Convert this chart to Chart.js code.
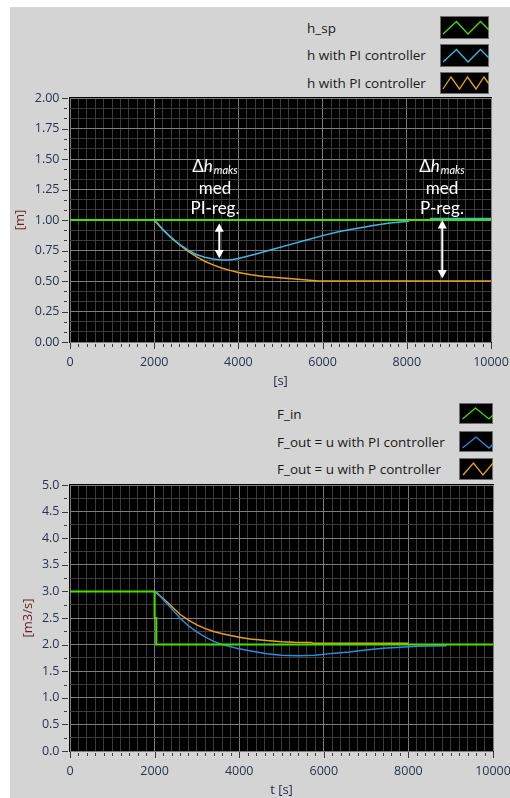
<!DOCTYPE html>
<html><head><meta charset="utf-8">
<script src="https://cdn.jsdelivr.net/npm/chart.js@4.4.1/dist/chart.umd.min.js"></script>
<style>
html,body{margin:0;padding:0;background:#fff;width:510px;height:798px;overflow:hidden;}
#panel{position:absolute;left:10px;top:7px;width:500px;height:791px;background:#d4d4d4;}
.cw{position:absolute;left:0;width:510px;}
#c1w{top:90px;height:300px;}
#c2w{top:478px;height:320px;}
.leg{position:absolute;font-family:'Open Sans';font-size:13.5px;color:#1a1a1a;white-space:nowrap;line-height:16px;}
.box{position:absolute;background:#000;border:1px solid #6e6e6e;box-sizing:border-box;}
.box svg{position:absolute;left:0;top:0;}
</style></head>
<body>
<div id="panel"></div>
<div id="legend"></div>
<div class="cw" id="c1w"><canvas id="c1"></canvas></div>
<div class="cw" id="c2w"><canvas id="c2"></canvas></div>
<script>
// ---------- data ----------
const xTickValues = [0, 2000, 4000, 6000, 8000, 10000];
const yTickValuesTop = [0, 0.25, 0.5, 0.75, 1.0, 1.25, 1.5, 1.75, 2.0];
const yTickValuesBottom = [0, 0.5, 1.0, 1.5, 2.0, 2.5, 3.0, 3.5, 4.0, 4.5, 5.0];

const topLabels = ['h_sp', 'h with PI controller', 'h with PI controller'];
const bottomLabels = ['F_in', 'F_out = u with PI controller', 'F_out = u with P controller'];

// top chart: level h [m]
const tSp = [0, 10000];
const hSp = [1.0, 1.0];
const tHPI = [0, 2000, 2100, 2200, 2400, 2600, 2800, 3000, 3200, 3400, 3600, 3800, 4000, 4400, 4800, 5200, 5600, 6000, 6400, 6800, 7200, 7600, 8050, 8100, 8550, 10000];
const hPI  = [1.0, 1.0, 0.965, 0.925, 0.858, 0.80, 0.755, 0.717, 0.695, 0.68, 0.672, 0.672, 0.685, 0.72, 0.758, 0.796, 0.834, 0.872, 0.905, 0.93, 0.955, 0.975, 0.99, null, 1.012, 1.012];
const tHP  = [0, 2000, 2100, 2200, 2400, 2600, 2800, 3000, 3200, 3400, 3600, 3800, 4000, 4300, 4600, 5200, 5900, 10000];
const hP   = [1.0, 1.0, 0.962, 0.922, 0.855, 0.797, 0.745, 0.70, 0.662, 0.632, 0.607, 0.587, 0.57, 0.552, 0.537, 0.52, 0.50, 0.50];

// bottom chart: flows [m3/s]
const tFin = [0, 2000, 2000, 2040, 2040, 10000];
const fIn  = [3.0, 3.0, 2.5, 2.5, 2.0, 2.0];
const tUPI = [2000, 2050, 2200, 2400, 2600, 2800, 3000, 3200, 3400, 3600, 3800, 4000, 4250, 4650, 5000, 5400, 5800, 6200, 6600, 7000, 7400, 7800, 8200, 8900];
const uPI  = [3.0, 2.99, 2.85, 2.68, 2.50, 2.35, 2.24, 2.14, 2.06, 2.00, 1.96, 1.92, 1.885, 1.83, 1.80, 1.79, 1.80, 1.835, 1.86, 1.90, 1.93, 1.95, 1.97, 1.98];
const tUP  = [2000, 2200, 2400, 2600, 2800, 3000, 3200, 3400, 3600, 3800, 4000, 4250, 4650, 5000, 5300, 5700, 5750, 8000];
const uP   = [3.0, 2.87, 2.72, 2.57, 2.46, 2.37, 2.30, 2.245, 2.205, 2.17, 2.14, 2.105, 2.075, 2.055, 2.045, 2.04, 2.027, 2.027];

// annotations (data coordinates of the top chart)
const notes = [
  {tText: 3444, tArrow: 3546, yTop: 0.973, yBot: 0.685, line2: 'med', line3: 'PI-reg.'},
  {tText: 8836, tArrow: 8843, yTop: 1.0,   yBot: 0.521, line2: 'med', line3: 'P-reg.'}
];
const noteRowY = [1.44, 1.262, 1.098];

// ---------- styles ----------
const GREEN = '#46e000', CYAN = '#3fb6e6', BLUE = '#2d8be0', ORANGE = '#e8a117';
const topColors = [GREEN, CYAN, ORANGE];
const bottomColors = [GREEN, BLUE, ORANGE];
const MAJOR = '#7c7c7c', MINOR = '#3c3c3c';
const TICKCOL = '#26344e';
const FONT = 'Open Sans';

function pts(xs, ys) { return xs.map((x, i) => ({x: x, y: ys[i]})); }

function makeTicks(majors, nSub) {
  const out = [];
  for (let i = 0; i < majors.length; i++) {
    out.push({value: majors[i], mj: true});
    if (i < majors.length - 1) {
      const step = (majors[i + 1] - majors[i]) / nSub;
      for (let k = 1; k < nSub; k++) out.push({value: majors[i] + k * step, mj: false});
    }
  }
  return out;
}

const bgPlugin = {
  id: 'bg',
  beforeDraw(c) {
    const a = c.chartArea, x = c.ctx;
    x.save(); x.fillStyle = '#000';
    x.fillRect(a.left - 1, a.top - 1, a.right - a.left + 2, a.bottom - a.top + 2);
    x.restore();
  }
};

const tickMarkPlugin = {
  id: 'tickmarks',
  afterDraw(c) {
    const ctx = c.ctx, a = c.chartArea;
    ctx.save();
    ctx.strokeStyle = '#3a3a3a';
    ctx.lineWidth = 1;
    const xs = c.scales.x, ys = c.scales.y;
    xs.ticks.forEach(t => {
      const p = Math.round(xs.getPixelForValue(t.value)) + 0.5;
      const len = t.mj ? 6 : 3;
      const y0 = Math.round(a.bottom) + 1 + (t.mj ? 0 : 1);
      ctx.beginPath(); ctx.moveTo(p, y0); ctx.lineTo(p, y0 + len); ctx.stroke();
    });
    ys.ticks.forEach(t => {
      const p = Math.round(ys.getPixelForValue(t.value)) + 0.5;
      const len = t.mj ? 6 : 3;
      const x0 = Math.round(a.left) - 2 - (t.mj ? 0 : 1);
      ctx.beginPath(); ctx.moveTo(x0, p); ctx.lineTo(x0 - len, p); ctx.stroke();
    });
    ctx.restore();
  }
};

function arrowHead(ctx, x, y, dir) {
  ctx.beginPath();
  ctx.moveTo(x, y);
  ctx.lineTo(x - 4.5, y + dir * 8.5);
  ctx.lineTo(x + 4.5, y + dir * 8.5);
  ctx.closePath(); ctx.fill();
}

const notePlugin = {
  id: 'notes',
  afterDatasetsDraw(c) {
    const ctx = c.ctx, xs = c.scales.x, ys = c.scales.y;
    ctx.save();
    ctx.fillStyle = '#ffffff'; ctx.strokeStyle = '#ffffff';
    notes.forEach(n => {
      const ax = xs.getPixelForValue(n.tArrow);
      const yt = ys.getPixelForValue(n.yTop), yb = ys.getPixelForValue(n.yBot);
      ctx.lineWidth = 2;
      ctx.beginPath(); ctx.moveTo(ax, yt + 6); ctx.lineTo(ax, yb - 6); ctx.stroke();
      arrowHead(ctx, ax, yt, 1);
      arrowHead(ctx, ax, yb, -1);
      const cx = xs.getPixelForValue(n.tText);
      ctx.textBaseline = 'middle';
      const r0 = ys.getPixelForValue(noteRowY[0]);
      const fBig = '17px Lato', fIt = 'italic 17px Lato', fSub = 'italic 11px Lato';
      ctx.font = fBig; const wD = ctx.measureText('Δ').width;
      ctx.font = fIt; const wH = ctx.measureText('h').width;
      ctx.font = fSub; const wS = ctx.measureText('maks').width;
      let x0 = cx - (wD + wH + 1 + wS) / 2;
      ctx.textAlign = 'left';
      ctx.font = fBig; ctx.fillText('Δ', x0, r0);
      ctx.font = fIt; ctx.fillText('h', x0 + wD, r0);
      ctx.font = fSub; ctx.fillText('maks', x0 + wD + wH + 1, r0 + 4);
      ctx.textAlign = 'center';
      ctx.font = fBig;
      ctx.fillText(n.line2, cx, ys.getPixelForValue(noteRowY[1]));
      ctx.fillText(n.line3, cx, ys.getPixelForValue(noteRowY[2]));
    });
    ctx.restore();
  }
};

function zeroPad(s) { s.paddingTop = 0; s.paddingBottom = 0; s.paddingLeft = 0; s.paddingRight = 0; }

function xScale(height, titleText, titlePad) {
  return {
    type: 'linear', min: 0, max: 10000,
    afterFit: s => { s.height = height; zeroPad(s); },
    afterBuildTicks: s => { s.ticks = makeTicks(xTickValues, 10); },
    grid: {drawTicks: false, lineWidth: 1, color: c => (c.tick && c.tick.mj) ? MAJOR : MINOR},
    border: {display: false},
    ticks: {autoSkip: false, maxRotation: 0, padding: 13, color: TICKCOL, font: {family: FONT, size: 12.5},
            callback: (v, i, t) => t[i].mj ? String(v) : ''},
    title: {display: true, text: titleText, color: '#1e2740', font: {family: FONT, size: 13}, padding: {top: 0, bottom: titlePad}}
  };
}
function yScale(min, max, majors, nSub, digits, titleText, titlePad) {
  return {
    type: 'linear', min: min, max: max,
    afterFit: s => { s.width = 70; zeroPad(s); },
    afterBuildTicks: s => { s.ticks = makeTicks(majors, nSub); },
    grid: {drawTicks: false, lineWidth: 1, color: c => (c.tick && c.tick.mj) ? MAJOR : MINOR},
    border: {display: false},
    ticks: {autoSkip: false, padding: 10.5, color: TICKCOL, font: {family: FONT, size: 12.5},
            callback: (v, i, t) => t[i].mj ? v.toFixed(digits) : ''},
    title: {display: true, text: titleText, color: '#6a2424', font: {family: FONT, size: 13}, padding: {top: titlePad, bottom: 0}}
  };
}

function baseOptions(pad, xs, ys) {
  return {
    responsive: true, maintainAspectRatio: false, animation: false, devicePixelRatio: 1,
    events: [],
    elements: {point: {radius: 0}, line: {tension: 0, fill: false}},
    layout: {padding: pad},
    plugins: {legend: {display: false}, tooltip: {enabled: false}},
    scales: {x: xs, y: ys}
  };
}

new Chart(document.getElementById('c1'), {
  type: 'line',
  data: {datasets: [
    {label: topLabels[0], data: pts(tSp, hSp), borderColor: topColors[0], borderWidth: 2},
    {label: topLabels[1], data: pts(tHPI, hPI), borderColor: topColors[1], borderWidth: 1.5, spanGaps: false},
    {label: topLabels[2], data: pts(tHP, hP), borderColor: topColors[2], borderWidth: 1.5}
  ]},
  options: baseOptions({top: 8, right: 19, left: 0, bottom: 0},
    xScale(48, '[s]', 1.2),
    yScale(0, 2, yTickValuesTop, 3, 2, '[m]', 12.2)),
  plugins: [bgPlugin, tickMarkPlugin, notePlugin]
});

new Chart(document.getElementById('c2'), {
  type: 'line',
  data: {datasets: [
    {label: bottomLabels[0], data: pts(tFin, fIn), borderColor: bottomColors[0], borderWidth: 2},
    {label: bottomLabels[1], data: pts(tUPI, uPI), borderColor: bottomColors[1], borderWidth: 1.5},
    {label: bottomLabels[2], data: pts(tUP, uP), borderColor: bottomColors[2], borderWidth: 1.5}
  ]},
  options: baseOptions({top: 7, right: 17, left: 0, bottom: 0},
    xScale(47, 't [s]', 0.2),
    yScale(0, 5, yTickValuesBottom, 2, 1, '[m3/s]', 20)),
  plugins: [bgPlugin, tickMarkPlugin]
});

// ---------- legends (HTML) ----------
const legendEl = document.getElementById('legend');
function addLegend(labels, colors, textX, textY, boxes, zig) {
  labels.forEach((lab, i) => {
    const d = document.createElement('div');
    d.className = 'leg'; d.textContent = lab;
    d.style.left = textX + 'px'; d.style.top = (textY[i] - 8) + 'px';
    legendEl.appendChild(d);
    const b = boxes[i];
    const bx = document.createElement('div');
    bx.className = 'box';
    bx.style.left = b[0] + 'px'; bx.style.top = b[1] + 'px';
    bx.style.width = b[2] + 'px'; bx.style.height = b[3] + 'px';
    const ns = 'http://www.w3.org/2000/svg';
    const svg = document.createElementNS(ns, 'svg');
    svg.setAttribute('width', b[2]); svg.setAttribute('height', b[3]);
    const pl = document.createElementNS(ns, 'polyline');
    pl.setAttribute('points', zig[i].map(p => p.join(',')).join(' '));
    pl.setAttribute('fill', 'none'); pl.setAttribute('stroke', colors[i]); pl.setAttribute('stroke-width', '1.3');
    svg.appendChild(pl); bx.appendChild(svg);
    legendEl.appendChild(bx);
  });
}
addLegend(topLabels, topColors, 307, [28, 55, 83],
  [[440, 16, 49, 23], [440, 44, 49, 23], [440, 72, 49, 22]],
  [[[2, 17], [15.5, 4.5], [27, 17], [39.5, 4.5], [48, 13]],
   [[2, 17], [15.5, 4.5], [27, 17], [39.5, 4.5], [48, 13]],
   [[2, 16], [10, 4], [18.5, 16], [26.5, 4], [35, 16], [43, 4], [48, 11]]]);
addLegend(bottomLabels, bottomColors, 277, [414, 442, 469],
  [[459, 403, 34, 21], [459, 431, 34, 21], [459, 458, 34, 22]],
  [[[2.5, 15], [15.5, 4], [29, 15], [33, 11]],
   [[2.5, 16], [16, 5], [29, 16], [33, 12]],
   [[3, 16], [13.5, 4], [23, 16], [33, 4]]]);
</script>
</body></html>
